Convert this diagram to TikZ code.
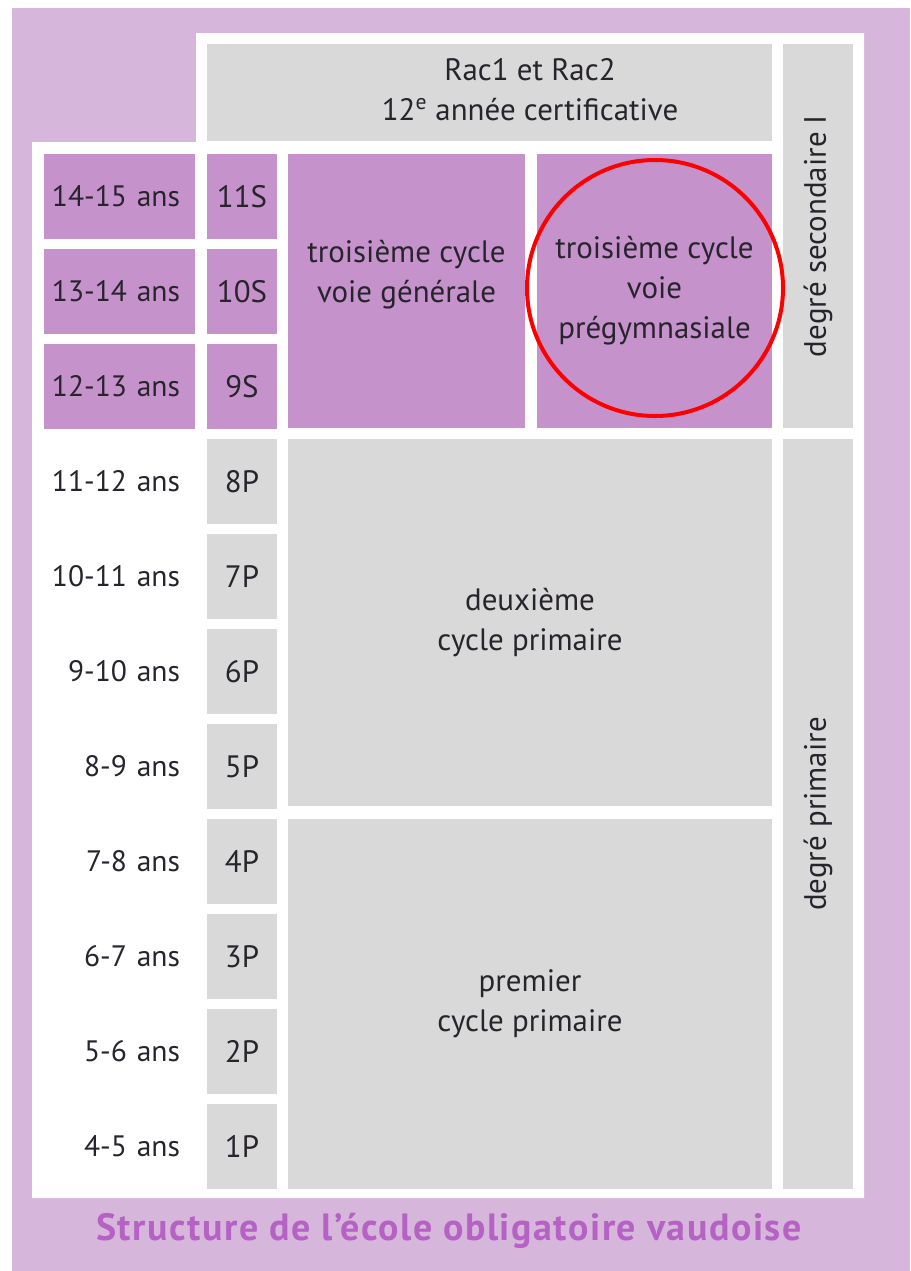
\documentclass[tikz,border=0pt]{standalone}
\usepackage{fontspec}
\setmainfont{PT Sans}
\usetikzlibrary{positioning,shapes.geometric}
\usepackage{xcolor}
\definecolor{lilac}{RGB}{215, 182, 220}
\definecolor{mauve}{RGB}{197, 146, 204}
\definecolor{gray}{RGB}{217, 217, 217}
\definecolor{ink}{RGB}{40, 36, 44}
\definecolor{plum}{RGB}{181, 98, 196}

\tikzset{
    cell/.style={
            rectangle,
            inner sep=0pt,
            outer sep=0pt,
            text=ink,
            align=center,
            font=\fontsize{22}{28.5}\selectfont
        },
    agecell/.style={
            cell,
            font=\fontsize{21}{26}\selectfont,
            inner xsep=1.875mm,
            text width=34mm,
            align=right,
            minimum height=21.25mm,
            execute at end node={\hspace*{1.875mm}}
        },
    gradecell/.style={
            cell,
            minimum width=17.5mm,
            minimum height=21.25mm
        },
    sidecell/.style={
            cell,
            fill=gray,
            rotate=90,
            minimum height=17.5mm
        }
}

\begin{document}
\begin{tikzpicture}[x=0.25mm, y=-0.25mm, node distance=2.5mm]
    % background and white frame
    \fill[lilac] (12,8) rectangle (910,1271);
    \fill[white] (196,33) -- (864,33) -- (864,1198) -- (32,1198) -- (32,142) -- (196,142) -- cycle;
    \useasboundingbox (0,0) rectangle (910,1271);

    % ages
    \node (a1415) [agecell, fill=mauve, anchor=north west] at (44,154) {14-15 ans};
    \node (a1314) [agecell, fill=mauve, below=of a1415] {13-14 ans};
    \node (a1213) [agecell, fill=mauve, below=of a1314] {12-13 ans};
    \node (a1112) [agecell, below=of a1213] {11-12 ans};
    \node (a1011) [agecell, below=of a1112] {10-11 ans};
    \node (a910) [agecell, below=of a1011] {9-10 ans};
    \node (a89) [agecell, below=of a910] {8-9 ans};
    \node (a78) [agecell, below=of a89] {7-8 ans};
    \node (a67) [agecell, below=of a78] {6-7 ans};
    \node (a56) [agecell, below=of a67] {5-6 ans};
    \node (a45) [agecell, below=of a56] {4-5 ans};

    % grades
    \node (g11S) [gradecell, fill=mauve, right=3mm of a1415] {11S};
    \node (g10S) [gradecell, fill=mauve, below=of g11S] {10S};
    \node (g9S) [gradecell, fill=mauve, below=of g10S] {9S};
    \node (g8P) [gradecell, fill=gray, below=of g9S] {8P};
    \node (g7P) [gradecell, fill=gray, below=of g8P] {7P};
    \node (g6P) [gradecell, fill=gray, below=of g7P] {6P};
    \node (g5P) [gradecell, fill=gray, below=of g6P] {5P};
    \node (g4P) [gradecell, fill=gray, below=of g5P] {4P};
    \node (g3P) [gradecell, fill=gray, below=of g4P] {3P};
    \node (g2P) [gradecell, fill=gray, below=of g3P] {2P};
    \node (g1P) [gradecell, fill=gray, below=of g2P] {1P};

    % cycles
    \node (rac) [
        cell,
        fill=gray,
        minimum width=141.25mm,
        minimum height=24.25mm,
        anchor=north west
    ] at (207,44) {\hspace*{20.25mm}\begin{tabular}{@{}c@{}}Rac1 et Rac2\\12\textsuperscript{e} année certificative\end{tabular}};

    \node (gen) [
        cell,
        fill=mauve,
        minimum width=59.25mm,
        minimum height=68.5mm,
        anchor=north west
    ] at (288,154) {troisième cycle\\voie générale\\~};

    \node (pregym) [
        cell,
        fill=mauve,
        minimum width=58.75mm,
        minimum height=68.5mm,
        right=3mm of gen
    ] {troisième cycle\\voie\\prégymnasiale};

    \node (deux) [
        cell,
        fill=gray,
        minimum width=121mm,
        minimum height=91.75mm,
        anchor=north west
    ] at (288,439) {deuxième\\cycle primaire};

    \node (prem) [
        cell,
        fill=gray,
        minimum width=121mm,
        minimum height=92.5mm,
        anchor=north west
    ] at (288,819) {premier\\cycle primaire};

    % degrees
    \node (sec) [sidecell, minimum width=96mm] at (818,236) {degré secondaire I};
    \node (prim) [sidecell, minimum width=187.5mm] at (818,814) {degré primaire};

    % highlight and title
    \node (ring) [circle, draw=red, line width=1mm, minimum size=64mm, inner sep=0pt] at (655,288) {};
    \node (title) [font=\fontsize{27}{32}\selectfont\bfseries\addfontfeature{LetterSpace=4}, text=plum] at (449,1231) {Structure de l’école obligatoire vaudoise};
\end{tikzpicture}
\end{document}
